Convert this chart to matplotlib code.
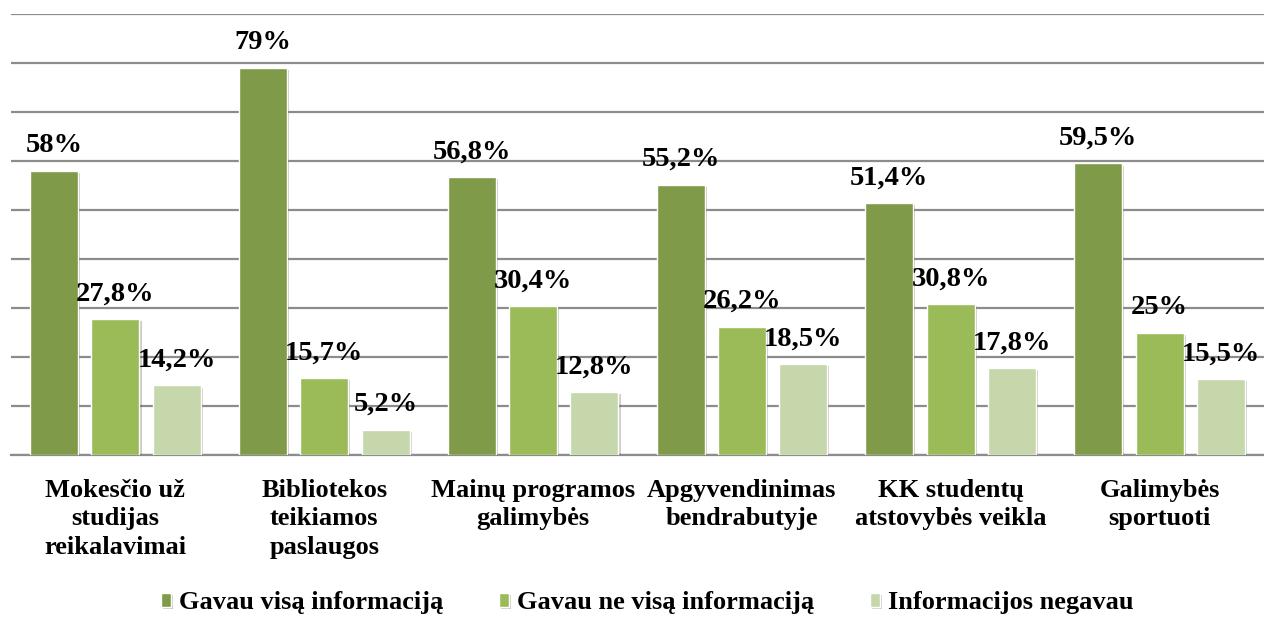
import numpy as np
import matplotlib.pyplot as plt
import matplotlib.patheffects as pe

categories = ["Mokesčio už\nstudijas\nreikalavimai", "Bibliotekos\nteikiamos\npaslaugos",
              "Mainų programos\ngalimybės", "Apgyvendinimas\nbendrabutyje",
              "KK studentų\natstovybės veikla", "Galimybės\nsportuoti"]
series_names = ["Gavau visą informaciją", "Gavau ne visą informaciją", "Informacijos negavau"]
full_info = [58, 79, 56.8, 55.2, 51.4, 59.5]
partial_info = [27.8, 15.7, 30.4, 26.2, 30.8, 25]
no_info = [14.2, 5.2, 12.8, 18.5, 17.8, 15.5]
labels_full = ["58%", "79%", "56,8%", "55,2%", "51,4%", "59,5%"]
labels_partial = ["27,8%", "15,7%", "30,4%", "26,2%", "30,8%", "25%"]
labels_no = ["14,2%", "5,2%", "12,8%", "18,5%", "17,8%", "15,5%"]

colors = ["#7F9A48", "#9BBB59", "#C6D7AC"]

plt.rcParams['font.family'] = ['Liberation Serif', 'DejaVu Serif']
plt.rcParams['font.weight'] = 'bold'

fig = plt.figure(figsize=(12.64, 6.17), dpi=100)
ax = fig.add_axes([11 / 1264, 162 / 617, 1 - 11 / 1264, (455 - 14) / 617])

x = np.arange(len(categories))
step = 0.294
width = 0.23
shadow = [pe.SimplePatchShadow(offset=(1.5, -1.5), alpha=0.25), pe.Normal()]

for i, (vals, labs) in enumerate(zip([full_info, partial_info, no_info],
                                     [labels_full, labels_partial, labels_no])):
    bars = ax.bar(x + (i - 1) * step, vals, width, color=colors[i], label=series_names[i],
                  edgecolor="white", linewidth=1.0, zorder=3)
    for b in bars:
        b.set_path_effects(shadow)
    for b, lab in zip(bars, labs):
        ax.annotate(lab, (b.get_x() + b.get_width() / 2, b.get_height()),
                    xytext=(0, 9), textcoords="offset points", ha="center", va="bottom",
                    fontsize=20.5, fontweight="bold", zorder=4)

ax.set_ylim(0, 90)
ax.set_xlim(-0.5, len(categories) - 0.5)
ax.set_yticks(np.arange(0, 91, 10))
ax.yaxis.grid(True, color="#8C8C8C", linewidth=1.6, zorder=0)
ax.set_axisbelow(True)
ax.tick_params(axis="y", left=False, labelleft=False)
ax.tick_params(axis="x", length=0, pad=17)
ax.set_xticks(x)
ax.set_xticklabels(categories, fontsize=19, fontweight="bold", linespacing=1.32, va="top")
for s in ["top", "right", "left"]:
    ax.spines[s].set_visible(False)
ax.spines["bottom"].set_color("#8C8C8C")
ax.spines["bottom"].set_linewidth(1.6)

# legend centred under the plot, like the Excel original
fig.legend(loc="center", bbox_to_anchor=(0.512, 1 - 603 / 617), ncol=3,
           frameon=False, handlelength=0.4, handleheight=0.4,
           handletextpad=0.3, columnspacing=2.1, prop={"weight": "bold", "size": 19})

fig.savefig("out.png", dpi=100)
